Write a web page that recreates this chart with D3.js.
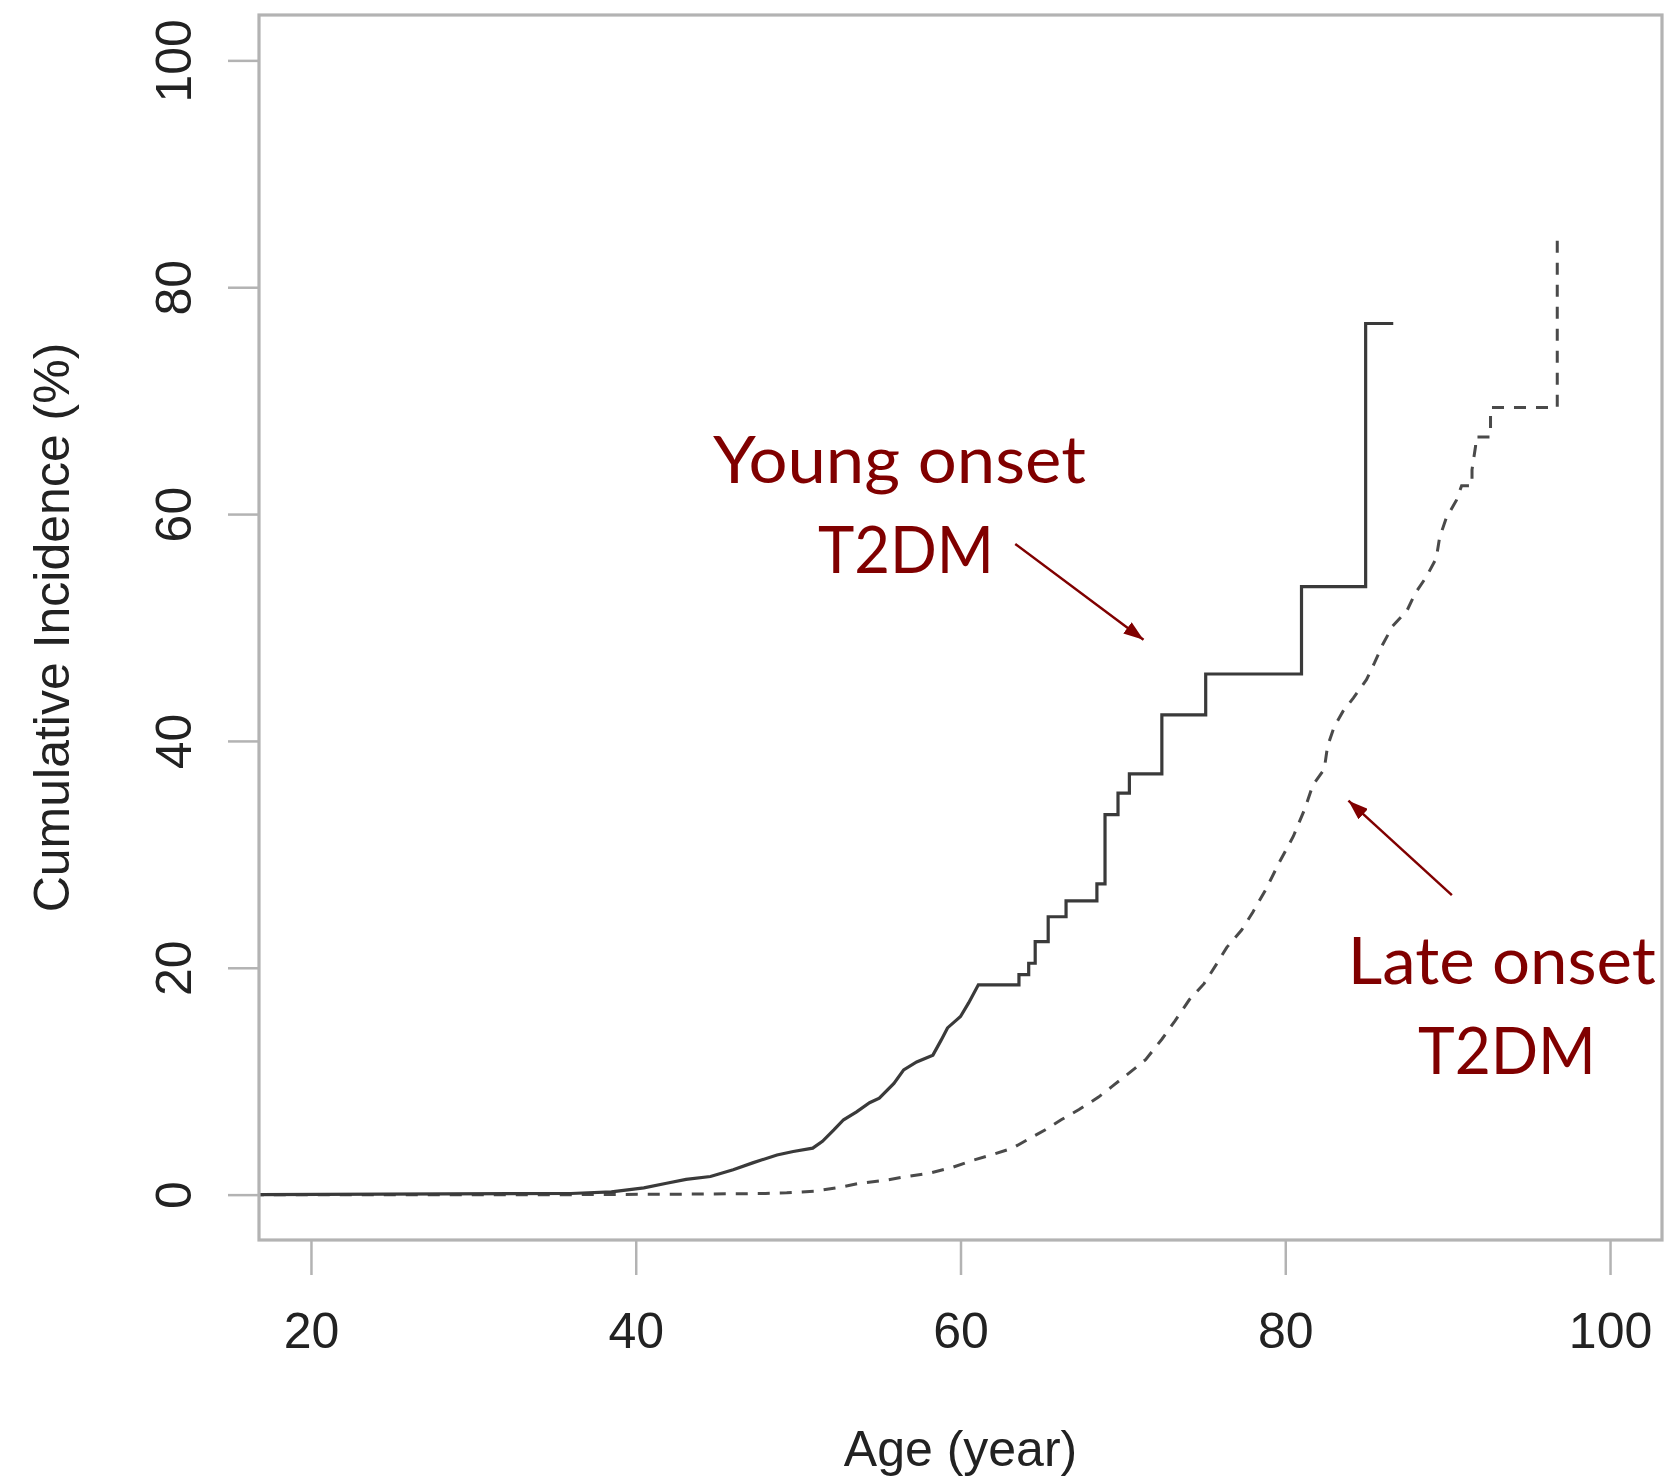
<!DOCTYPE html>
<html><head><meta charset="utf-8">
<script src="https://cdn.jsdelivr.net/npm/d3@7"></script>
<style>html,body{margin:0;padding:0;background:#fff;} svg{display:block;}</style>
</head><body>
<svg id="chart" width="1665" height="1478"></svg>
<script>
// ---- data ----
const xTicks = [20, 40, 60, 80, 100];
const yTicks = [0, 20, 40, 60, 80, 100];
const xLabel = "Age (year)";
const yLabel = "Cumulative Incidence (%)";

// Young onset T2DM (solid curve): [age, cumulative incidence %], step corners listed explicitly
const youngOnset = [
  [15,0],[36,0.1],[38.5,0.25],[40.5,0.6],[41.9,1.0],[43.1,1.35],[44.6,1.6],[46.0,2.2],
  [47.2,2.8],[48.7,3.5],[49.7,3.8],[50.9,4.1],[51.5,4.7],[52.2,5.7],[52.8,6.6],[53.6,7.3],
  [54.4,8.1],[55.0,8.5],[55.9,9.8],[56.5,11.0],[57.3,11.7],[58.3,12.3],[58.8,13.6],[59.2,14.7],
  [60.0,15.7],[60.5,16.9],[61.1,18.5],[63.6,18.5],[63.6,19.4],[64.2,19.4],[64.2,20.4],[64.6,20.4],
  [64.6,22.3],[65.4,22.3],[65.4,24.5],[66.5,24.5],[66.5,25.9],[68.4,25.9],[68.4,27.4],[68.9,27.4],
  [68.9,33.5],[69.7,33.5],[69.7,35.4],[70.4,35.4],[70.4,37.1],[72.4,37.1],[72.4,42.3],[75.1,42.3],
  [75.1,45.9],[81.0,45.9],[81.0,53.6],[84.95,53.6],[84.95,76.8],[86.65,76.8]
];
// Late onset T2DM (dashed curve)
const lateOnset = [
  [15,0],[36,0],[44,0.05],[48,0.1],[49.3,0.16],[51.0,0.3],[52.4,0.6],[53.8,1.0],[55.5,1.3],
  [56.7,1.6],[58.1,1.9],[59.5,2.4],[60.7,3.0],[61.9,3.5],[63.2,4.1],[64.2,4.9],[65.2,5.7],
  [66.2,6.6],[67.3,7.5],[68.5,8.6],[69.3,9.5],[70.1,10.4],[71.4,11.9],[72.4,13.7],[73.2,15.3],
  [74.1,17.2],[75.0,18.6],[75.8,20.4],[76.4,21.8],[77.3,23.3],[78.0,24.9],[78.8,26.9],[79.6,29.2],
  [80.5,31.6],[81.2,34.0],[81.7,36.1],[82.4,37.5],[82.6,39.5],[83.0,41.2],[83.55,42.6],[84.2,43.8],
  [85.0,45.4],[85.5,46.9],[86.0,48.5],[86.6,50.1],[87.5,51.5],[88.0,53.0],[88.7,54.5],[89.3,56.1],
  [89.5,57.9],[89.9,59.6],[90.55,61.25],[90.86,62.5],[91.5,62.5],[91.5,63.9],[91.72,66.0],[91.72,66.8],
  [92.64,66.8],[92.64,69.4],[96.75,69.4],[96.75,84.8]
];
const seriesNames = ["Young onset T2DM", "Late onset T2DM"];

// ---- layout ----
const frame = {left: 259, right: 1662, top: 15, bottom: 1240};
const svg = d3.select("#chart");
const x = d3.scaleLinear().domain([16.8, 103.2]).range([frame.left, frame.right]);
const y = d3.scaleLinear().domain([-4, 104]).range([frame.bottom, frame.top]);

const axisColor = "#b3b3b3";
const textColor = "#222";
const annColor = "#800000";

svg.append("defs").append("clipPath").attr("id", "plotclip")
  .append("rect").attr("x", frame.left).attr("y", frame.top)
  .attr("width", frame.right - frame.left).attr("height", frame.bottom - frame.top);

// curves
const line = d3.line().x(d => x(d[0])).y(d => y(d[1])).curve(d3.curveLinear);
const g = svg.append("g").attr("clip-path", "url(#plotclip)");
g.append("path").datum(lateOnset).attr("d", line)
  .attr("fill", "none").attr("stroke", "#4a4a4a").attr("stroke-width", 3)
  .attr("stroke-dasharray", "12,10");
g.append("path").datum(youngOnset).attr("d", line)
  .attr("fill", "none").attr("stroke", "#3a3a3a").attr("stroke-width", 3.2)
  .attr("stroke-linejoin", "miter");

// frame
svg.append("rect").attr("x", frame.left).attr("y", frame.top)
  .attr("width", frame.right - frame.left).attr("height", frame.bottom - frame.top)
  .attr("fill", "none").attr("stroke", axisColor).attr("stroke-width", 3.2);

// x axis
const xAxis = svg.append("g").attr("transform", `translate(0,${frame.bottom})`)
  .call(d3.axisBottom(x).tickValues(xTicks).tickSize(35).tickFormat(d3.format("d")));
xAxis.select(".domain").remove();
xAxis.selectAll(".tick line").attr("stroke", axisColor).attr("stroke-width", 2.5);
xAxis.selectAll(".tick text").attr("y", 108).attr("dy", 0)
  .attr("fill", textColor).style("font-family", "'Liberation Sans', Arial, sans-serif")
  .style("font-size", "50px");

// y axis
const yAxis = svg.append("g").attr("transform", `translate(${frame.left},0)`)
  .call(d3.axisLeft(y).tickValues(yTicks).tickSize(31).tickFormat(d3.format("d")));
yAxis.select(".domain").remove();
yAxis.selectAll(".tick line").attr("stroke", axisColor).attr("stroke-width", 2.5);
yAxis.selectAll(".tick text").attr("x", 0).attr("y", -68).attr("dy", 0)
  .attr("transform", "rotate(-90)").attr("text-anchor", "middle")
  .attr("fill", textColor).style("font-family", "'Liberation Sans', Arial, sans-serif")
  .style("font-size", "50px");

// axis titles
svg.append("text").attr("x", (frame.left + frame.right) / 2).attr("y", 1466)
  .attr("text-anchor", "middle").attr("fill", textColor)
  .style("font-family", "'Liberation Sans', Arial, sans-serif").style("font-size", "50px")
  .text(xLabel);
svg.append("text")
  .attr("transform", `translate(69,${(frame.top + frame.bottom) / 2}) rotate(-90)`)
  .attr("text-anchor", "middle").attr("fill", textColor)
  .style("font-family", "'Liberation Sans', Arial, sans-serif").style("font-size", "50px")
  .text(yLabel);

// annotations (positions in data units)
svg.select("defs").append("marker").attr("id", "arrowhead")
  .attr("viewBox", "0 0 20 14").attr("refX", 20).attr("refY", 7)
  .attr("markerWidth", 20).attr("markerHeight", 14).attr("markerUnits", "userSpaceOnUse")
  .attr("orient", "auto")
  .append("path").attr("d", "M0,0 L20,7 L0,14 Z").attr("fill", annColor);

const labels = [
  {text: "Young onset", age: 56.24, pct: 62.72, len: 373},
  {text: "T2DM", age: 56.64, pct: 54.8, len: 176},
  {text: "Late onset", age: 93.34, pct: 18.54, len: 308},
  {text: "T2DM", age: 93.65, pct: 10.66, len: 178}
];
svg.selectAll("text.ann").data(labels).enter().append("text").attr("class", "ann")
  .attr("x", d => x(d.age)).attr("y", d => y(d.pct))
  .attr("text-anchor", "middle").attr("fill", annColor)
  .attr("textLength", d => d.len).attr("lengthAdjust", "spacingAndGlyphs")
  .style("font-family", "Lato, 'Open Sans', sans-serif").style("font-size", "65px")
  .text(d => d.text);

const arrows = [
  {from: [63.37, 57.37], to: [71.27, 48.92]},
  {from: [90.26, 26.41], to: [83.89, 34.73]}
];
svg.selectAll("line.arrow").data(arrows).enter().append("line").attr("class", "arrow")
  .attr("x1", d => x(d.from[0])).attr("y1", d => y(d.from[1]))
  .attr("x2", d => x(d.to[0])).attr("y2", d => y(d.to[1]))
  .attr("stroke", annColor).attr("stroke-width", 2.5)
  .attr("marker-end", "url(#arrowhead)");
</script>
</body></html>
